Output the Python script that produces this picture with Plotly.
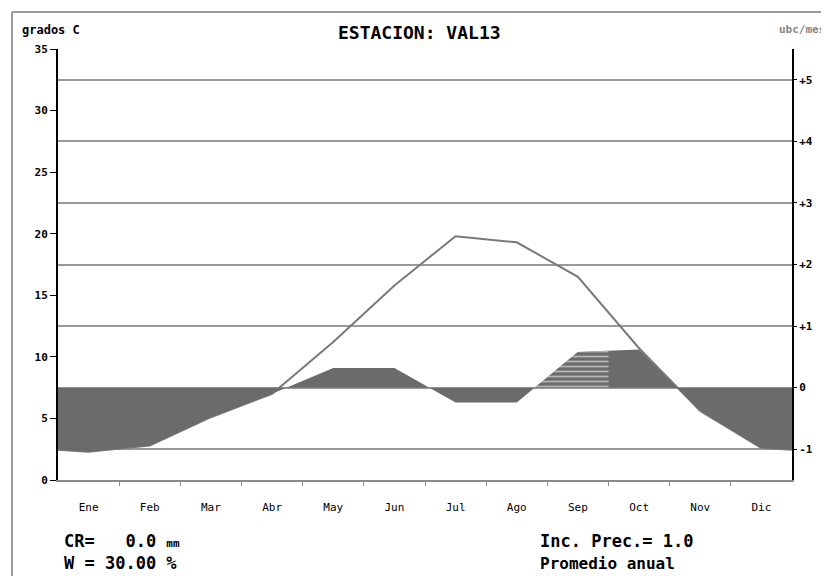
import numpy as np
import plotly.graph_objects as go

meses = ["Ene", "Feb", "Mar", "Abr", "May", "Jun", "Jul", "Ago", "Sep", "Oct", "Nov", "Dic"]
temperatura = [2.3, 2.8, 5.1, 7.0, 11.2, 15.8, 19.8, 19.3, 16.5, 10.7, 5.6, 2.6]  # grados C
ubc_mes = [-1.04, -0.94, -0.48, -0.10, 0.32, 0.32, -0.24, -0.24, 0.58, 0.62, -0.38, -0.98]  # ubc/mes
mes_rayado = "Sep"

centros = [i + 0.5 for i in range(len(meses))]


def cerrar(vals):
    # curve is cyclic: both edges of the year take the Dic/Ene mean
    borde = (vals[0] + vals[-1]) / 2
    return [0] + centros + [len(meses)], [borde] + list(vals) + [borde]


xt, yt = cerrar(temperatura)
xu, yu = cerrar(ubc_mes)

GRIS = "#6b6b6b"
FONT = "DejaVu Sans Mono"

fig = go.Figure()

fig.add_trace(go.Scatter(
    x=xu, y=yu, yaxis="y2", mode="lines", fill="tozeroy",
    fillcolor=GRIS, line=dict(width=0, color=GRIS), hoverinfo="skip",
))

# hatched part of the positive balance inside the marked month
k = meses.index(mes_rayado)
y0, y1 = ubc_mes[k - 1], ubc_mes[k]
x_cruce = centros[k - 1] + (0 - y0) / (y1 - y0)
x_fin = k + 1
y_fin = float(np.interp(x_fin, centros, ubc_mes))
fig.add_trace(go.Scatter(
    x=[x_cruce, centros[k], x_fin, x_fin, x_cruce],
    y=[0, y1, y_fin, 0, 0], yaxis="y2", mode="lines", fill="toself",
    line=dict(width=0, color=GRIS),
    fillpattern=dict(shape="-", fgcolor="white", bgcolor=GRIS, size=5, solidity=0.35),
    hoverinfo="skip",
))

fig.add_trace(go.Scatter(
    x=xt, y=yt, mode="lines", line=dict(color="#7a7a7a", width=2), hoverinfo="skip",
))

# the page body has an 8px margin, so the figure is sized/placed to compensate
fig.update_layout(
    width=821, height=568,
    margin=dict(l=50, r=37, t=41, b=96),
    paper_bgcolor="white", plot_bgcolor="white",
    showlegend=False,
    font=dict(family=FONT, color="black"),
    xaxis=dict(
        range=[0, 12], tickvals=centros, ticktext=meses, ticks="",
        showgrid=False, zeroline=False, showline=True, linecolor="#8a8a8a", linewidth=2,
        tickfont=dict(size=11), ticklabelstandoff=16,
        minor=dict(tickvals=list(range(1, 12)), ticks="outside", ticklen=4,
                   tickcolor="#8a8a8a", tickwidth=1, showgrid=False),
    ),
    yaxis=dict(
        range=[0, 35], tickvals=list(range(0, 36, 5)), showgrid=False, zeroline=False,
        showline=True, linecolor="black", linewidth=2, ticks="outside", ticklen=6,
        tickcolor="black", tickfont=dict(size=11, weight="bold"),
    ),
    yaxis2=dict(
        range=[-1.5, 5.5], overlaying="y", side="right",
        tickvals=list(range(-1, 6)), ticktext=["-1", "0", "+1", "+2", "+3", "+4", "+5"],
        showgrid=True, gridcolor="#9a9a9a", gridwidth=1.5, zeroline=False,
        showline=True, linecolor="black", linewidth=2, ticks="outside", ticklen=3,
        tickcolor="black", tickfont=dict(size=11, weight="bold"),
    ),
)


def texto(t, px, py, size, anchor="left", color="black", bold=False):
    # px, py are screen pixels; plot area spans x 58..792, y 49..480
    if bold:
        t = "<b>" + t + "</b>"
    fig.add_annotation(
        text=t, xref="paper", yref="paper",
        x=(px - 58) / 734, y=(480 - py) / 431,
        xanchor=anchor, yanchor="middle", showarrow=False,
        font=dict(family=FONT, size=size, color=color),
    )


texto("grados C", 20, 30, 12, bold=True)
texto("ESTACION: VAL13", 419, 32, 18, anchor="center", bold=True)
texto("ubc/mes", 827, 30, 11, anchor="right", color="#888888", bold=True)
texto("CR=\u00a0\u00a0\u00a00.0 <span style='font-size:11px'>mm</span>", 62, 541, 17, bold=True)
texto("W = 30.00 %", 62, 563, 17, bold=True)
texto("Inc. Prec.= 1.0", 538, 541, 17, bold=True)
texto("Promedio anual", 538, 563, 16, bold=True)

# page border of the scanned sheet
bx = (12 - 58) / 734
by = (480 - 12) / 431
fig.add_shape(type="line", xref="paper", yref="paper", x0=bx, x1=(829 - 58) / 734,
              y0=by, y1=by, line=dict(color="#9a9a9a", width=2))
fig.add_shape(type="line", xref="paper", yref="paper", x0=bx, x1=bx,
              y0=by, y1=(480 - 576) / 431, line=dict(color="#9a9a9a", width=2))

fig.write_html("out.html")
